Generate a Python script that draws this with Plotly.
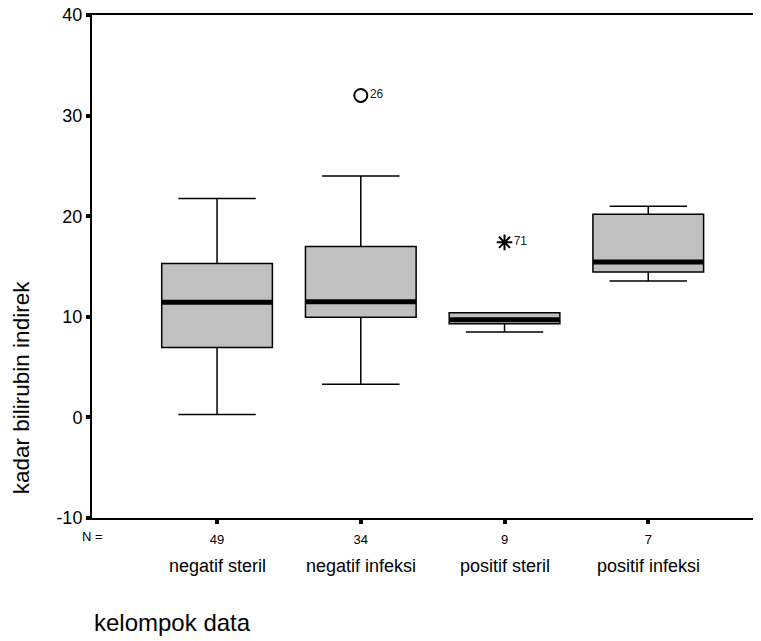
import plotly.graph_objects as go

categories = ["negatif steril", "negatif infeksi", "positif steril", "positif infeksi"]
n_counts = ["49", "34", "9", "7"]
lower_whisker = [0.3, 3.3, 8.5, 13.55]
q1 = [6.95, 9.95, 9.3, 14.45]
median = [11.45, 11.5, 9.7, 15.45]
q3 = [15.3, 17.0, 10.4, 20.2]
upper_whisker = [21.75, 24.0, 10.4, 21.0]
y_ticks = [-10, 0, 10, 20, 30, 40]
y_tick_labels = ["-10", "0", "10", "20", "30", "40"]

outlier_cat = [1]
outlier_val = [32.0]
outlier_lbl = ["26"]
extreme_cat = [2]
extreme_val = [17.4]
extreme_lbl = ["71"]

FONT = "Liberation Sans, Arial, sans-serif"
pos = list(range(len(categories)))
box_w = 0.77

fig = go.Figure()
fig.add_trace(go.Box(
    x=pos, q1=q1, median=median, q3=q3,
    lowerfence=lower_whisker, upperfence=upper_whisker,
    width=box_w, whiskerwidth=0.7,
    fillcolor="#c0c0c0", line=dict(color="black", width=1.5),
    boxpoints=False, showlegend=False, hoverinfo="skip",
))

mx, my = [], []
for p, m in zip(pos, median):
    mx += [p - box_w / 2, p + box_w / 2, None]
    my += [m, m, None]
fig.add_trace(go.Scatter(x=mx, y=my, mode="lines",
                         line=dict(color="black", width=5), showlegend=False, hoverinfo="skip"))

fig.add_trace(go.Scatter(
    x=outlier_cat, y=outlier_val, mode="markers+text", text=outlier_lbl,
    textposition="middle right", textfont=dict(family=FONT, size=12, color="#222"),
    marker=dict(symbol="circle-open", size=13, color="black", line=dict(width=2)),
    showlegend=False, cliponaxis=False))
fig.add_trace(go.Scatter(
    x=extreme_cat, y=extreme_val, mode="markers+text", text=extreme_lbl,
    textposition="middle right", textfont=dict(family=FONT, size=12, color="#222"),
    marker=dict(symbol="asterisk-open", size=13, color="black", line=dict(width=2)),
    showlegend=False, cliponaxis=False))

annotations = []
for p, c in zip(pos, categories):
    annotations.append(dict(x=p, y=-0.0954, xref="x", yref="paper", text=c, showarrow=False,
                            xanchor="center", yanchor="middle",
                            font=dict(family=FONT, size=18, color="black")))
annotations.append(dict(x=-0.87, y=-0.036, xref="x", yref="paper", text="N =", showarrow=False,
                        xanchor="center", yanchor="middle",
                        font=dict(family=FONT, size=13, color="black")))
annotations.append(dict(x=0.0, y=-0.2087, xref="paper", yref="paper", text="kelompok data",
                        showarrow=False, xanchor="left", yanchor="middle",
                        font=dict(family=FONT, size=24, color="black")))
annotations.append(dict(x=-0.1046, y=0.2584, xref="paper", yref="paper",
                        text="kadar bilirubin indirek", textangle=-90, showarrow=False,
                        xanchor="center", yanchor="middle",
                        font=dict(family=FONT, size=22.5, color="black")))

# the page body adds an 8px offset, so margins are shifted accordingly
fig.update_layout(
    width=761, height=641,
    margin=dict(l=84, r=0, t=7, b=131),
    paper_bgcolor="white", plot_bgcolor="white",
    font=dict(family=FONT, color="black"),
    annotations=annotations,
    xaxis=dict(range=[-0.87, 3.84], tickvals=pos, ticktext=n_counts, automargin=False,
               showgrid=False, zeroline=False, showline=True, linecolor="black",
               linewidth=2, mirror=True, ticks="outside", ticklen=4, tickwidth=4,
               tickcolor="black", tickfont=dict(family=FONT, size=13, color="black"),
               ticklabelstandoff=4),
    yaxis=dict(range=[-10, 40], tickvals=y_ticks, ticktext=y_tick_labels, automargin=False,
               ticklabeloverflow="allow",
               showgrid=False, zeroline=False, showline=True, linecolor="black",
               linewidth=2, ticks="outside", ticklen=4, tickwidth=4, tickcolor="black",
               tickfont=dict(family=FONT, size=18, color="black")),
)

fig.write_html("out.html")
